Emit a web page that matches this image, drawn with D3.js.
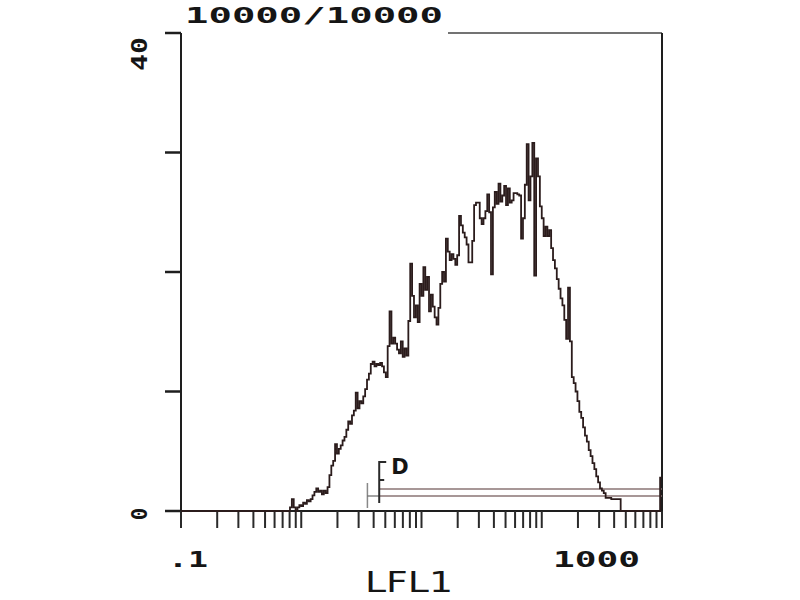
<!DOCTYPE html>
<html>
<head>
<meta charset="utf-8">
<script src="https://cdnjs.cloudflare.com/ajax/libs/d3/7.8.5/d3.min.js"></script>
<style>
    body { margin: 0; background: #fff; }
    .lbl { font-family: 'DejaVu Sans Mono', monospace; font-weight: bold; fill: #151515; }
    .plain { font-family: 'DejaVu Sans', sans-serif; fill: #151515; }
</style>
</head>
<body>
<div id="vis"></div>
<script>
// Flow cytometry histogram (LFL1, 256 log channels over 4 decades)

/* *************************** Data ***************************** */

var title = '10000/10000';
var xTitle = 'LFL1';
var xDomain = [0.1, 1000];
var yDomain = [0, 40];
var xTickLabels = ['.1', '1000'];
var yTickLabels = ['0', '40'];
var yTicks = [0, 10, 20, 30, 40];
var nChannels = 256;

// counts, starting at channel 55
var channelStart = 55;
var counts = [
    0, 0, 0, 0.3, 1.0, 0.3, 0, 0.3, 0.5, 0.4,
    0.7, 0.6, 0.9, 0.8, 1.0, 1.3, 1.6, 1.9, 1.6, 1.7,
    1.4, 1.7, 1.5, 2.0, 3.0, 3.8, 4.2, 5.6, 4.8, 5.2,
    5.5, 5.9, 6.2, 6.8, 7.5, 7.3, 8.0, 8.4, 9.9, 8.6,
    9.2, 9.0, 9.6, 10.2, 11.0, 11.5, 12.3, 12.5, 12.1, 12.3,
    12.2, 12.4, 12.1, 11.6, 11.2, 13.8, 16.7, 14.0, 14.5, 14.0,
    13.5, 13.2, 14.2, 12.9, 13.6, 13.0, 15.9, 20.7, 18.0, 16.2,
    17.2, 15.8, 19.0, 18.0, 20.4, 18.5, 19.6, 16.7, 18.1, 17.1,
    16.2, 15.6, 17.0, 19.0, 20.0, 19.2, 22.8, 21.7, 21.0, 21.5,
    21.1, 20.6, 21.4, 24.7, 23.9, 23.3, 22.9, 22.3, 20.8, 20.8,
    22.6, 25.6, 25.8, 25.8, 24.5, 24.0, 24.5, 25.1, 26.5, 25.0,
    19.8, 25.4, 26.7, 25.7, 27.4, 25.9, 26.4, 27.2, 25.6, 27.0,
    25.8, 26.0, 26.6, 26.6, 26.5, 26.4, 22.8, 24.5, 27.3, 30.7,
    26.0, 28.0, 30.8, 19.7, 29.5, 28.0, 25.5, 24.5, 23.0, 23.8,
    23.0, 23.5, 22.0, 21.0, 20.3, 19.4, 18.6, 17.8, 17.2, 16.0,
    14.4, 18.7, 14.2, 11.2, 10.7, 10.0, 9.2, 8.3, 7.8, 7.0,
    6.3, 5.8, 5.1, 4.6, 4.0, 3.5, 2.9, 2.4, 1.9, 1.7,
    1.5, 1.1, 1.1, 1.1, 1.0, 1.0, 1.0, 1.0, 1.0, 0
];
var overflowCount = 2.8; // last channel

// gate D: marker start, bar start, bar end (LFL1 units)
var gateName = 'D';
var gate = [3.55, 4.45, 1000];

/* *************************** Settings ***************************** */

var width = 800;
var height = 600;
var plot = { left: 181, right: 662, top: 33, bottom: 511 };

var svg = d3.select('#vis')
    .append('svg')
    .attr('width', width)
    .attr('height', height);

var xScale = d3.scaleLog()
    .domain(xDomain)
    .range([plot.left, plot.right]);

var yScale = d3.scaleLinear()
    .domain(yDomain)
    .range([plot.bottom, plot.top]);

// channel index -> left edge value
var channelValue = function(c) {
    return xDomain[0] * Math.pow(xDomain[1] / xDomain[0], c / nChannels);
};

/* *************************** Frame & axes ***************************** */

var axisColor = '#1e1e1e';

// left axis and its ticks
svg.append('line')
    .attr('x1', plot.left).attr('x2', plot.left)
    .attr('y1', plot.top).attr('y2', plot.bottom + 1)
    .attr('stroke', axisColor).attr('stroke-width', 2);

svg.selectAll('.ytick').data(yTicks).enter().append('line')
    .attr('class', 'ytick')
    .attr('x1', plot.left - 16).attr('x2', plot.left)
    .attr('y1', function(d) { return yScale(d); })
    .attr('y2', function(d) { return yScale(d); })
    .attr('stroke', axisColor).attr('stroke-width', 2.5);

// partial top border and right border
svg.append('line')
    .attr('x1', 448).attr('x2', plot.right)
    .attr('y1', yScale(40)).attr('y2', yScale(40))
    .attr('stroke', '#444').attr('stroke-width', 1.5);

svg.append('line')
    .attr('x1', plot.right).attr('x2', plot.right)
    .attr('y1', plot.top).attr('y2', plot.bottom + 1)
    .attr('stroke', axisColor).attr('stroke-width', 2);

// bottom axis
svg.append('line')
    .attr('x1', plot.left - 16).attr('x2', plot.right)
    .attr('y1', plot.bottom).attr('y2', plot.bottom)
    .attr('stroke', axisColor).attr('stroke-width', 2);

var xTicks = [];
[0.1, 1, 10, 100].forEach(function(dec) {
    for (var k = 1; k <= 9; k++) xTicks.push(k * dec);
});
xTicks.push(1000);

svg.selectAll('.xtick').data(xTicks).enter().append('line')
    .attr('class', 'xtick')
    .attr('x1', function(d) { return xScale(d); })
    .attr('x2', function(d) { return xScale(d); })
    .attr('y1', plot.bottom)
    .attr('y2', plot.bottom + 17)
    .attr('stroke', '#2a2a2a').attr('stroke-width', 2);

/* *************************** Labels ***************************** */

svg.append('text')
    .attr('class', 'lbl')
    .attr('x', 185).attr('y', 23)
    .attr('font-size', 22)
    .attr('textLength', 258)
    .attr('lengthAdjust', 'spacingAndGlyphs')
    .text(title);

svg.append('text')
    .attr('class', 'lbl')
    .attr('x', 168).attr('y', 567)
    .attr('font-size', 21)
    .attr('textLength', 40)
    .attr('lengthAdjust', 'spacingAndGlyphs')
    .text(xTickLabels[0]);

svg.append('text')
    .attr('class', 'lbl')
    .attr('x', 553).attr('y', 567)
    .attr('font-size', 21)
    .attr('textLength', 87)
    .attr('lengthAdjust', 'spacingAndGlyphs')
    .text(xTickLabels[1]);

svg.append('text')
    .attr('class', 'plain')
    .attr('x', 365).attr('y', 592)
    .attr('font-size', 28)
    .attr('textLength', 88)
    .attr('lengthAdjust', 'spacingAndGlyphs')
    .text(xTitle);

svg.append('text')
    .attr('class', 'lbl')
    .attr('transform', 'translate(147,' + (yScale(0) + 3) + ') rotate(-90)')
    .attr('text-anchor', 'middle')
    .attr('font-size', 21)
    .text(yTickLabels[0]);

svg.append('text')
    .attr('class', 'lbl')
    .attr('transform', 'translate(147,' + (yScale(40) + 4) + ') rotate(-90)')
    .attr('text-anchor', 'end')
    .attr('font-size', 21)
    .attr('textLength', 34)
    .attr('lengthAdjust', 'spacingAndGlyphs')
    .text(yTickLabels[1]);

/* *************************** Gate ***************************** */

var gateColor = '#8a7474';
var gy1 = 489, gy2 = 496;

svg.append('line')
    .attr('x1', xScale(gate[1])).attr('x2', xScale(gate[2]))
    .attr('y1', gy1).attr('y2', gy1)
    .attr('stroke', gateColor).attr('stroke-width', 1.5);
svg.append('line')
    .attr('x1', xScale(gate[1])).attr('x2', xScale(gate[2]))
    .attr('y1', gy2).attr('y2', gy2)
    .attr('stroke', gateColor).attr('stroke-width', 1.5);

// left marker
svg.append('line')
    .attr('x1', xScale(gate[0])).attr('x2', xScale(gate[0]))
    .attr('y1', 483).attr('y2', 508)
    .attr('stroke', '#888').attr('stroke-width', 1.5);
svg.append('line')
    .attr('x1', xScale(gate[0])).attr('x2', xScale(gate[1]))
    .attr('y1', gy2).attr('y2', gy2)
    .attr('stroke', '#666').attr('stroke-width', 1.2);

// bracket "[" on the start of the bar, then the letter
var bx = xScale(gate[1]);
svg.append('path')
    .attr('d', 'M' + (bx + 7) + ',462 H' + bx + ' V503 M' + bx + ',480 H' + (bx + 5))
    .attr('fill', 'none')
    .attr('stroke', '#2a2a2a').attr('stroke-width', 2);

svg.append('text')
    .attr('class', 'plain')
    .attr('x', bx + 12).attr('y', 474)
    .attr('font-size', 21)
    .attr('font-weight', 'bold')
    .text(gateName);

/* *************************** Histogram ***************************** */

var hist = [];
for (var c = 0; c < nChannels; c++) {
    var v = 0;
    if (c >= channelStart && c < channelStart + counts.length) v = counts[c - channelStart];
    if (c === nChannels - 1) v = overflowCount;
    hist.push({ x: channelValue(c), y: v });
}
hist.push({ x: xDomain[1], y: overflowCount });

var line = d3.line()
    .x(function(d) { return xScale(d.x); })
    .y(function(d) { return yScale(d.y); })
    .curve(d3.curveStepAfter);

svg.append('path')
    .datum(hist)
    .attr('d', line)
    .attr('fill', 'none')
    .attr('stroke', '#2b1c1c')
    .attr('stroke-width', 1.8)
    .attr('stroke-linejoin', 'miter');
</script>
</body>
</html>
